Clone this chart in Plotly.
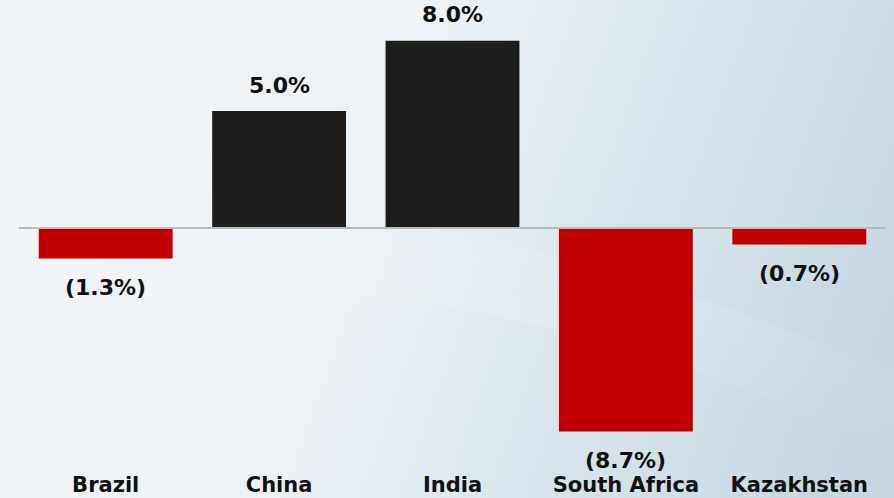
import base64
import plotly.graph_objects as go

# GDP growth by country (%)
countries = ["Brazil", "China", "India", "South Africa", "Kazakhstan"]
growth = [-1.3, 5.0, 8.0, -8.7, -0.7]

POS_COLOR = "#1e1d1b"
NEG_COLOR = "#c00000"
FONT = "DejaVu Sans"

W, H = 894, 498
ML, MR, MT, MB = 19, 8, 0, 28
plot_w = W - ML - MR
plot_h = H - MT - MB
px_per_unit = 23.4
zero_px = 228
y_max = zero_px / px_per_unit
y_min = -(plot_h - zero_px) / px_per_unit


def fmt(v):
    return f"{v:.1f}%" if v >= 0 else f"({abs(v):.1f}%)"


colors = [POS_COLOR if v >= 0 else NEG_COLOR for v in growth]

fig = go.Figure(
    go.Bar(
        x=countries,
        y=growth,
        marker=dict(color=colors, line=dict(width=0)),
        width=0.772,
        hoverinfo="skip",
    )
)

for c, v in zip(countries, growth):
    fig.add_annotation(
        x=c,
        y=v,
        text=fmt(v),
        showarrow=False,
        yshift=26 if v >= 0 else -29,
        font=dict(family=FONT, size=22, color="#111111", weight="bold"),
    )

# zero baseline
fig.add_shape(
    type="line",
    xref="paper",
    x0=0,
    x1=1,
    yref="y",
    y0=0,
    y1=0,
    line=dict(color="#bababa", width=2),
    layer="above",
)

# soft blue gradient backdrop
svg = f"""<svg xmlns='http://www.w3.org/2000/svg' width='{W}' height='{H}' viewBox='0 0 {W} {H}' preserveAspectRatio='none'>
<defs>
<linearGradient id='g' x1='0' y1='0.4' x2='1' y2='0.6'>
<stop offset='0' stop-color='#f3f6f9'/>
<stop offset='0.4' stop-color='#ecf1f5'/>
<stop offset='0.62' stop-color='#dce7ee'/>
<stop offset='1' stop-color='#c6d8e2'/>
</linearGradient>
<linearGradient id='s' x1='0' y1='0' x2='1' y2='1'>
<stop offset='0' stop-color='#ffffff' stop-opacity='0'/>
<stop offset='0.5' stop-color='#ffffff' stop-opacity='0.12'/>
<stop offset='1' stop-color='#ffffff' stop-opacity='0'/>
</linearGradient>
</defs>
<rect width='{W}' height='{H}' fill='url(#g)'/>
<path d='M0,{H*0.55} C{W*0.35},{H*0.35} {W*0.6},{H*0.45} {W},{H*0.75} L{W},{H*0.9} C{W*0.6},{H*0.6} {W*0.35},{H*0.5} 0,{H*0.7} Z' fill='url(#s)'/>
</svg>"""
src = "data:image/svg+xml;base64," + base64.b64encode(svg.encode()).decode()

fig.add_layout_image(
    source=src,
    xref="paper",
    yref="paper",
    x=-ML / plot_w,
    y=1 + MT / plot_h,
    sizex=W / plot_w,
    sizey=H / plot_h,
    xanchor="left",
    yanchor="top",
    sizing="stretch",
    layer="below",
)

fig.update_layout(
    width=W,
    height=H,
    margin=dict(l=ML, r=MR, t=MT, b=MB),
    paper_bgcolor="#eef3f7",
    plot_bgcolor="rgba(0,0,0,0)",
    showlegend=False,
    bargap=0.228,
    xaxis=dict(
        showgrid=False,
        zeroline=False,
        showline=False,
        ticks="",
        tickfont=dict(family=FONT, size=21, color="#111111", weight="bold"),
        fixedrange=True,
    ),
    yaxis=dict(
        range=[y_min, y_max],
        visible=False,
        showgrid=False,
        zeroline=False,
        fixedrange=True,
    ),
)

fig.write_html("out.html")
